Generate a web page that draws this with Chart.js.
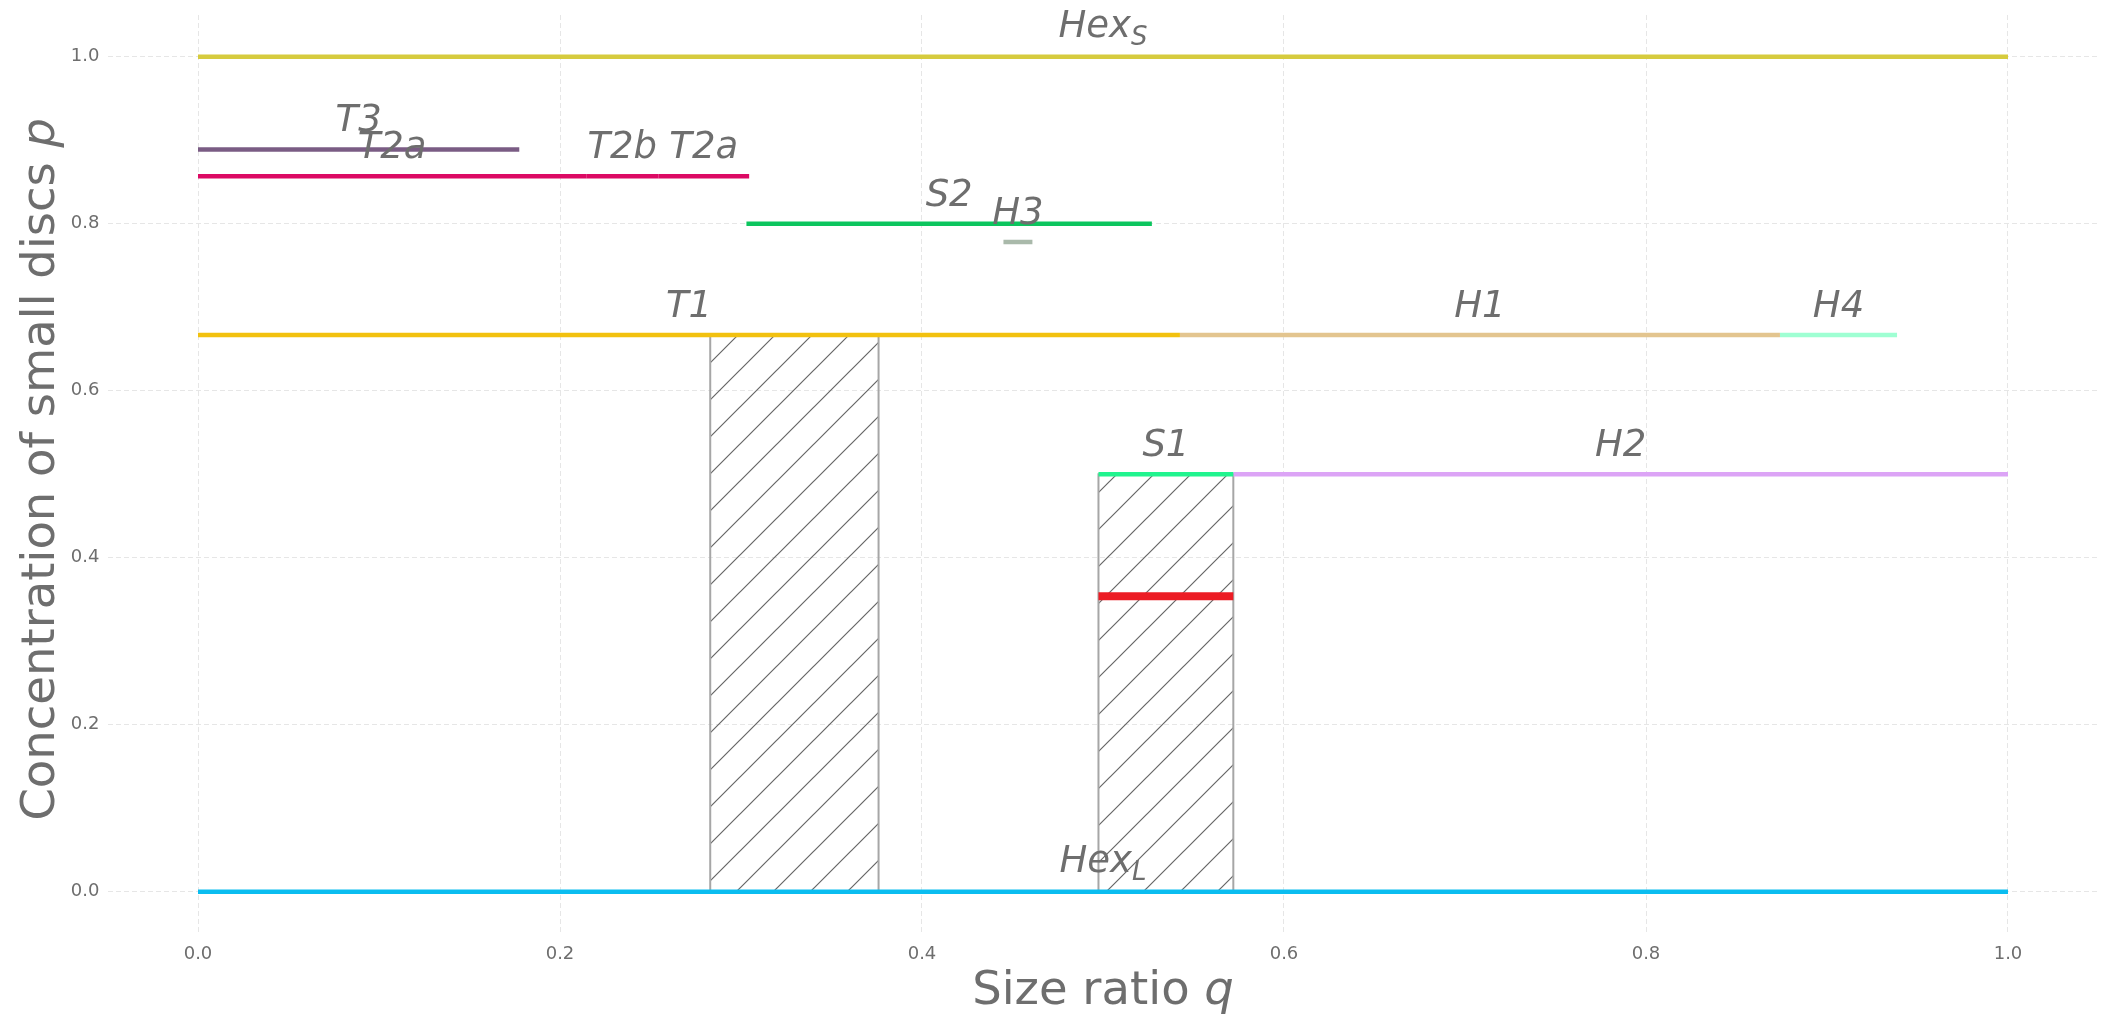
<!DOCTYPE html>
<html>
<head>
<meta charset="utf-8">
<script src="https://cdn.jsdelivr.net/npm/chart.js@4.4.1/dist/chart.umd.min.js"></script>
<style>
  html, body { margin: 0; padding: 0; background: #fff; }
</style>
</head>
<body>
<canvas id="chart" width="2112" height="1016"></canvas>
<script>
// one horizontal segment per packing phase: q range and concentration p
const phaseName = ['Hex', 'T3', 'T2a', 'T2b', 'T2a', 'S2', 'H3', 'T1', 'H1', 'H4', 'S1', 'H2', 'Hex'];
const phaseSub  = ['S', '', '', '', '', '', '', '', '', '', '', '', 'L'];
const qFrom  = [0, 0, 0, 0.2145, 0.2543, 0.303, 0.445, 0, 0.5425, 0.874, 0.4975, 0.572, 0];
const qTo    = [1, 0.1775, 0.2145, 0.2543, 0.3045, 0.527, 0.461, 0.5425, 0.874, 0.9387, 0.572, 1, 1];
const pLevel = [1, 0.889, 0.857, 0.857, 0.857, 0.8, 0.778, 0.6667, 0.6667, 0.6667, 0.5, 0.5, 0];
const phaseColor = ['#d6cb3e', '#7a5c84', '#dc0a64', '#dc0a64', '#dc0a64', '#0cc55e', '#a9b9aa',
                    '#f2c10f', '#e3c58f', '#9fffd3', '#20f48e', '#dca4f6', '#0abdf0'];

// hatched regions
const mixFrom = [0.283, 0.4975];
const mixTo   = [0.376, 0.572];
const mixTop  = [0.6667, 0.5];

// red marker inside the second hatched region
const redFrom = 0.4975;
const redTo = 0.572;
const redLevel = 0.354;

const xTicks = [0, 0.2, 0.4, 0.6, 0.8, 1.0];
const yTicks = [0, 0.2, 0.4, 0.6, 0.8, 1.0];

const TEXT = '#6e6e6e';
const FONT = '"DejaVu Sans", "Noto Sans", sans-serif';

function hatchPattern() {
  const s = 37;
  const c = document.createElement('canvas');
  c.width = s; c.height = s;
  const g = c.getContext('2d');
  g.strokeStyle = '#666';
  g.lineWidth = 1.2;
  g.beginPath();
  g.moveTo(0, s); g.lineTo(s, 0);
  g.moveTo(-s / 2, s / 2); g.lineTo(s / 2, -s / 2);
  g.moveTo(s / 2, s * 1.5); g.lineTo(s * 1.5, s / 2);
  g.stroke();
  return g.createPattern(c, 'repeat');
}

function segment(x0, x1, y, color, width) {
  return {
    data: [{x: x0, y: y}, {x: x1, y: y}],
    showLine: true,
    borderColor: color,
    borderWidth: width,
    borderCapStyle: 'butt',
    pointRadius: 0,
    pointHoverRadius: 0,
    fill: false
  };
}

const datasets = [];
phaseName.forEach((n, i) => {
  datasets.push(segment(qFrom[i], qTo[i], pLevel[i], phaseColor[i], 4.5));
});
datasets.push(segment(redFrom, redTo, redLevel, '#ec1c24', 8));

const hatch = hatchPattern();
mixFrom.forEach((q0, i) => {
  datasets.push({
    data: [{x: q0, y: 0}, {x: q0, y: mixTop[i]}, {x: mixTo[i], y: mixTop[i]}, {x: mixTo[i], y: 0}],
    showLine: true,
    borderColor: '#a6a6a6',
    borderWidth: 2,
    backgroundColor: hatch,
    fill: 'origin',
    pointRadius: 0,
    pointHoverRadius: 0,
    tension: 0
  });
});

// italic phase names above each segment
const phaseLabels = {
  id: 'phaseLabels',
  afterDatasetsDraw(chart) {
    const {ctx, scales: {x, y}} = chart;
    ctx.save();
    ctx.fillStyle = TEXT;
    ctx.textAlign = 'left';
    ctx.textBaseline = 'alphabetic';
    phaseName.forEach((name, i) => {
      const cx = x.getPixelForValue((qFrom[i] + qTo[i]) / 2);
      const by = y.getPixelForValue(pLevel[i]) - (phaseSub[i] ? 20 : 18);
      ctx.font = 'italic 37px ' + FONT;
      const w1 = ctx.measureText(name).width;
      let w2 = 0;
      if (phaseSub[i]) {
        ctx.font = 'italic 26px ' + FONT;
        w2 = ctx.measureText(phaseSub[i]).width;
      }
      const left = cx - (w1 + w2) / 2;
      ctx.font = 'italic 37px ' + FONT;
      ctx.fillText(name, left, by);
      if (phaseSub[i]) {
        ctx.font = 'italic 26px ' + FONT;
        ctx.fillText(phaseSub[i], left + w1, by + 8);
      }
    });
    ctx.restore();
  }
};

// axis titles with an italic variable at the end
function mixedText(ctx, plain, ital, cx, baseY) {
  ctx.font = '46.5px ' + FONT;
  const w1 = ctx.measureText(plain).width;
  ctx.font = 'italic 46.5px ' + FONT;
  const w2 = ctx.measureText(ital).width;
  const left = cx - (w1 + w2) / 2;
  ctx.font = '46.5px ' + FONT;
  ctx.fillText(plain, left, baseY);
  ctx.font = 'italic 46.5px ' + FONT;
  ctx.fillText(ital, left + w1, baseY);
}

const axisTitles = {
  id: 'axisTitles',
  afterDraw(chart) {
    const {ctx, chartArea: a} = chart;
    ctx.save();
    ctx.fillStyle = TEXT;
    ctx.textAlign = 'left';
    ctx.textBaseline = 'alphabetic';
    mixedText(ctx, 'Size ratio ', 'q', (a.left + a.right) / 2, a.bottom + 70.5);
    ctx.translate(a.left - 53.5, (a.top + a.bottom) / 2 - 5);
    ctx.rotate(-Math.PI / 2);
    mixedText(ctx, 'Concentration of small discs ', 'p', 0, 0);
    ctx.restore();
  }
};

const tickFont = { family: FONT, size: 18 };

new Chart(document.getElementById('chart'), {
  type: 'scatter',
  data: { datasets },
  options: {
    responsive: false,
    animation: false,
    devicePixelRatio: 1,
    layout: { padding: { top: 15, right: 13.5, left: 0, bottom: 0 } },
    plugins: { legend: { display: false }, tooltip: { enabled: false } },
    scales: {
      x: {
        type: 'linear',
        min: -0.05,
        max: 1.05,
        afterBuildTicks: s => { s.ticks = xTicks.map(v => ({ value: v })); },
        afterFit: s => { s.height = 82.5; s.paddingLeft = 0; s.paddingRight = 0; },
        grid: { color: '#e6e6e6', lineWidth: 1, drawTicks: false },
        border: { display: false, dash: [5, 3] },
        ticks: { color: TEXT, font: tickFont, padding: 10, maxRotation: 0, autoSkip: false,
                 callback: v => v.toFixed(1) }
      },
      y: {
        type: 'linear',
        min: -0.05,
        max: 1.05,
        afterBuildTicks: s => { s.ticks = yTicks.map(v => ({ value: v })); },
        afterFit: s => { s.width = 107.5; s.paddingTop = 0; s.paddingBottom = 0; },
        grid: { color: '#e6e6e6', lineWidth: 1, drawTicks: false },
        border: { display: false, dash: [5, 3] },
        ticks: { color: TEXT, font: tickFont, padding: 8, autoSkip: false,
                 callback: v => v.toFixed(1) }
      }
    }
  },
  plugins: [phaseLabels, axisTitles]
});
</script>
</body>
</html>
